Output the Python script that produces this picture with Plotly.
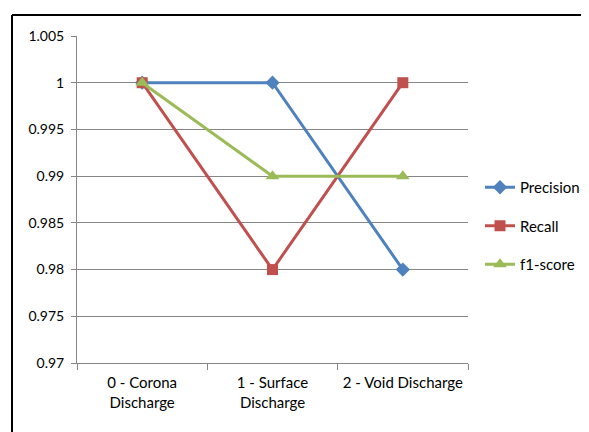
import plotly.graph_objects as go

categories = ["0 - Corona<br>Discharge", "1 - Surface<br>Discharge", "2 - Void Discharge"]
precision = [1.0, 1.0, 0.98]
recall = [1.0, 0.98, 1.0]
f1_score = [1.0, 0.99, 0.99]
y_ticks = [0.97, 0.975, 0.98, 0.985, 0.99, 0.995, 1.0, 1.005]
y_tick_labels = ["0.97", "0.975", "0.98", "0.985", "0.99", "0.995", "1", "1.005"]

series = [
    ("Precision", precision, "#4F81BD", "diamond", 11),
    ("Recall", recall, "#C0504D", "square", 11),
    ("f1-score", f1_score, "#9BBB59", "triangle-up", 12),
]

fig = go.Figure()
for i, (name, vals, color, sym, size) in enumerate(series):
    fig.add_trace(go.Scatter(
        x=categories, y=vals, name=name, mode="lines+markers",
        line=dict(color=color, width=3),
        marker=dict(symbol=sym, size=size, color=color),
        legendgroup=f"g{i}",
    ))

OFF = 8  # page body offset
W, H = 640, 432
# plot area in page pixels
PX0, PX1, PY0, PY1 = 77, 468, 36, 363
L, T = PX0 - OFF, PY0 - OFF
R = W - (PX1 - OFF)
B = H - (PY1 - OFF)
pw, ph = PX1 - PX0, PY1 - PY0

def px_to_paper_x(px):
    return (px - PX0) / pw

def px_to_paper_y(py):
    return (PY1 - py) / ph

fig.update_layout(
    width=W, height=H,
    margin=dict(l=L, r=R, t=T, b=B),
    paper_bgcolor="white", plot_bgcolor="white",
    font=dict(family="Lato", size=14, color="#000000"),
    showlegend=True,
    legend=dict(
        x=px_to_paper_x(480), xanchor="left",
        y=px_to_paper_y(226), yanchor="middle",
        traceorder="grouped", tracegroupgap=16,
        font=dict(size=15), itemwidth=30,
        bgcolor="rgba(0,0,0,0)",
    ),
    xaxis=dict(
        type="category", range=[-0.5, 2.5], tickson="boundaries",
        ticks="outside", ticklen=6, ticklabelstandoff=6, tickangle=0,
        tickcolor="#868686", showline=True, linecolor="#868686", linewidth=1,
        showgrid=False, tickfont=dict(size=15), automargin=False,
    ),
    yaxis=dict(
        range=[0.97, 1.005], tickvals=y_ticks, ticktext=y_tick_labels,
        ticks="outside", ticklen=5, tickcolor="#868686", ticklabelstandoff=4,
        showline=True, linecolor="#868686", linewidth=1,
        showgrid=True, gridcolor="#868686", gridwidth=1,
        zeroline=False, tickfont=dict(size=14), automargin=False,
    ),
    shapes=[
        dict(type="line", xref="paper", yref="paper",
             x0=px_to_paper_x(12), x1=px_to_paper_x(700),
             y0=px_to_paper_y(15), y1=px_to_paper_y(15),
             line=dict(color="#000000", width=2), layer="below"),
        dict(type="line", xref="paper", yref="paper",
             x0=px_to_paper_x(12), x1=px_to_paper_x(12),
             y0=px_to_paper_y(15), y1=px_to_paper_y(520),
             line=dict(color="#000000", width=2), layer="below"),
    ],
)

fig.write_html("out.html")
